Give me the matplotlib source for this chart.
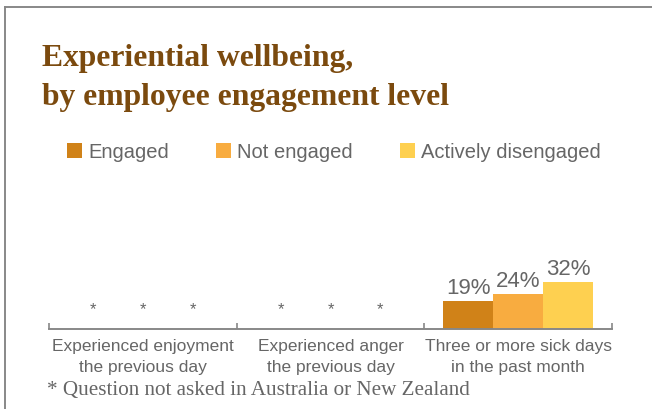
import matplotlib
matplotlib.use("Agg")
import matplotlib.pyplot as plt
from matplotlib.patches import Patch
from matplotlib.lines import Line2D
import numpy as np

categories = ["Experienced enjoyment\nthe previous day",
              "Experienced anger\nthe previous day",
              "Three or more sick days\nin the past month"]
series = ["Engaged", "Not engaged", "Actively disengaged"]
values = {
    "Engaged": [None, None, 19],
    "Not engaged": [None, None, 24],
    "Actively disengaged": [None, None, 32],
}
colors = ["#D08218", "#F8AC40", "#FED050"]
title = "Experiential wellbeing,\nby employee engagement level"
footnote = "* Question not asked in Australia or New Zealand"

W, H = 652, 409
fig = plt.figure(figsize=(W / 100, H / 100), dpi=100)
gray = "#666666"
sans = ["Liberation Sans", "DejaVu Sans"]
serif = ["Liberation Serif", "DejaVu Serif"]

# frame lines (top and left)
fig.add_artist(Line2D([4.5 / W, 4.5 / W], [0, 1 - 6.5 / H], transform=fig.transFigure,
                      color="#888888", lw=1.4))
fig.add_artist(Line2D([4.5 / W, 1], [1 - 6.5 / H, 1 - 6.5 / H], transform=fig.transFigure,
                      color="#888888", lw=1.4))

ax = fig.add_axes([49 / W, (H - 329) / H, 563 / W, 147 / H])
ax.set_xlim(0, 3)
ax.set_ylim(0, 100)

bw = 0.266
for i, (s, c) in enumerate(zip(series, colors)):
    for j, v in enumerate(values[s]):
        x = j + 0.5 + (i - 1) * bw
        if v is None:
            ax.text(x, 8, "*", ha="center", va="bottom", fontsize=12, color=gray, family=sans)
        else:
            ax.bar(x, v, width=bw, color=c, linewidth=0)
            ax.text(x, v + 1.5, f"{v}%", ha="center", va="bottom", fontsize=16,
                    color=gray, family=sans)

for sp in ["top", "right", "left"]:
    ax.spines[sp].set_visible(False)
ax.spines["bottom"].set_color("#888888")
ax.spines["bottom"].set_linewidth(1.4)
ax.set_yticks([])
ax.set_xticks([0, 1, 2, 3])
ax.set_xticklabels([])
ax.tick_params(axis="x", direction="in", length=4, width=1.2, color="#888888")
ax.set_xticks([0.5, 1.5, 2.5], minor=True)
ax.set_xticklabels(categories, minor=True, fontsize=12.5, color=gray, family=sans,
                   linespacing=1.5)
ax.tick_params(axis="x", which="minor", length=0, pad=7.5)

# title
fig.text(42 / W, 1 - 44 / H, title, ha="left", va="top", fontsize=22.8, fontweight="bold",
         color="#7B4A0E", family=serif, linespacing=1.45)

# legend
handles = [Patch(facecolor=c, edgecolor="none") for c in colors]
fig.legend(handles, series, loc="center left", bbox_to_anchor=(67 / W, 1 - 152 / H),
           ncol=3, frameon=False, prop={"family": sans, "size": 14.5},
           handlelength=0.75, handleheight=0.75, handletextpad=0.3, columnspacing=2.33,
           labelcolor=gray, borderaxespad=0, borderpad=0)

fig.text(47 / W, 1 - 390 / H, footnote, ha="left", va="center", fontsize=15.2,
         color=gray, family=serif)

fig.savefig("out.png", dpi=100)
